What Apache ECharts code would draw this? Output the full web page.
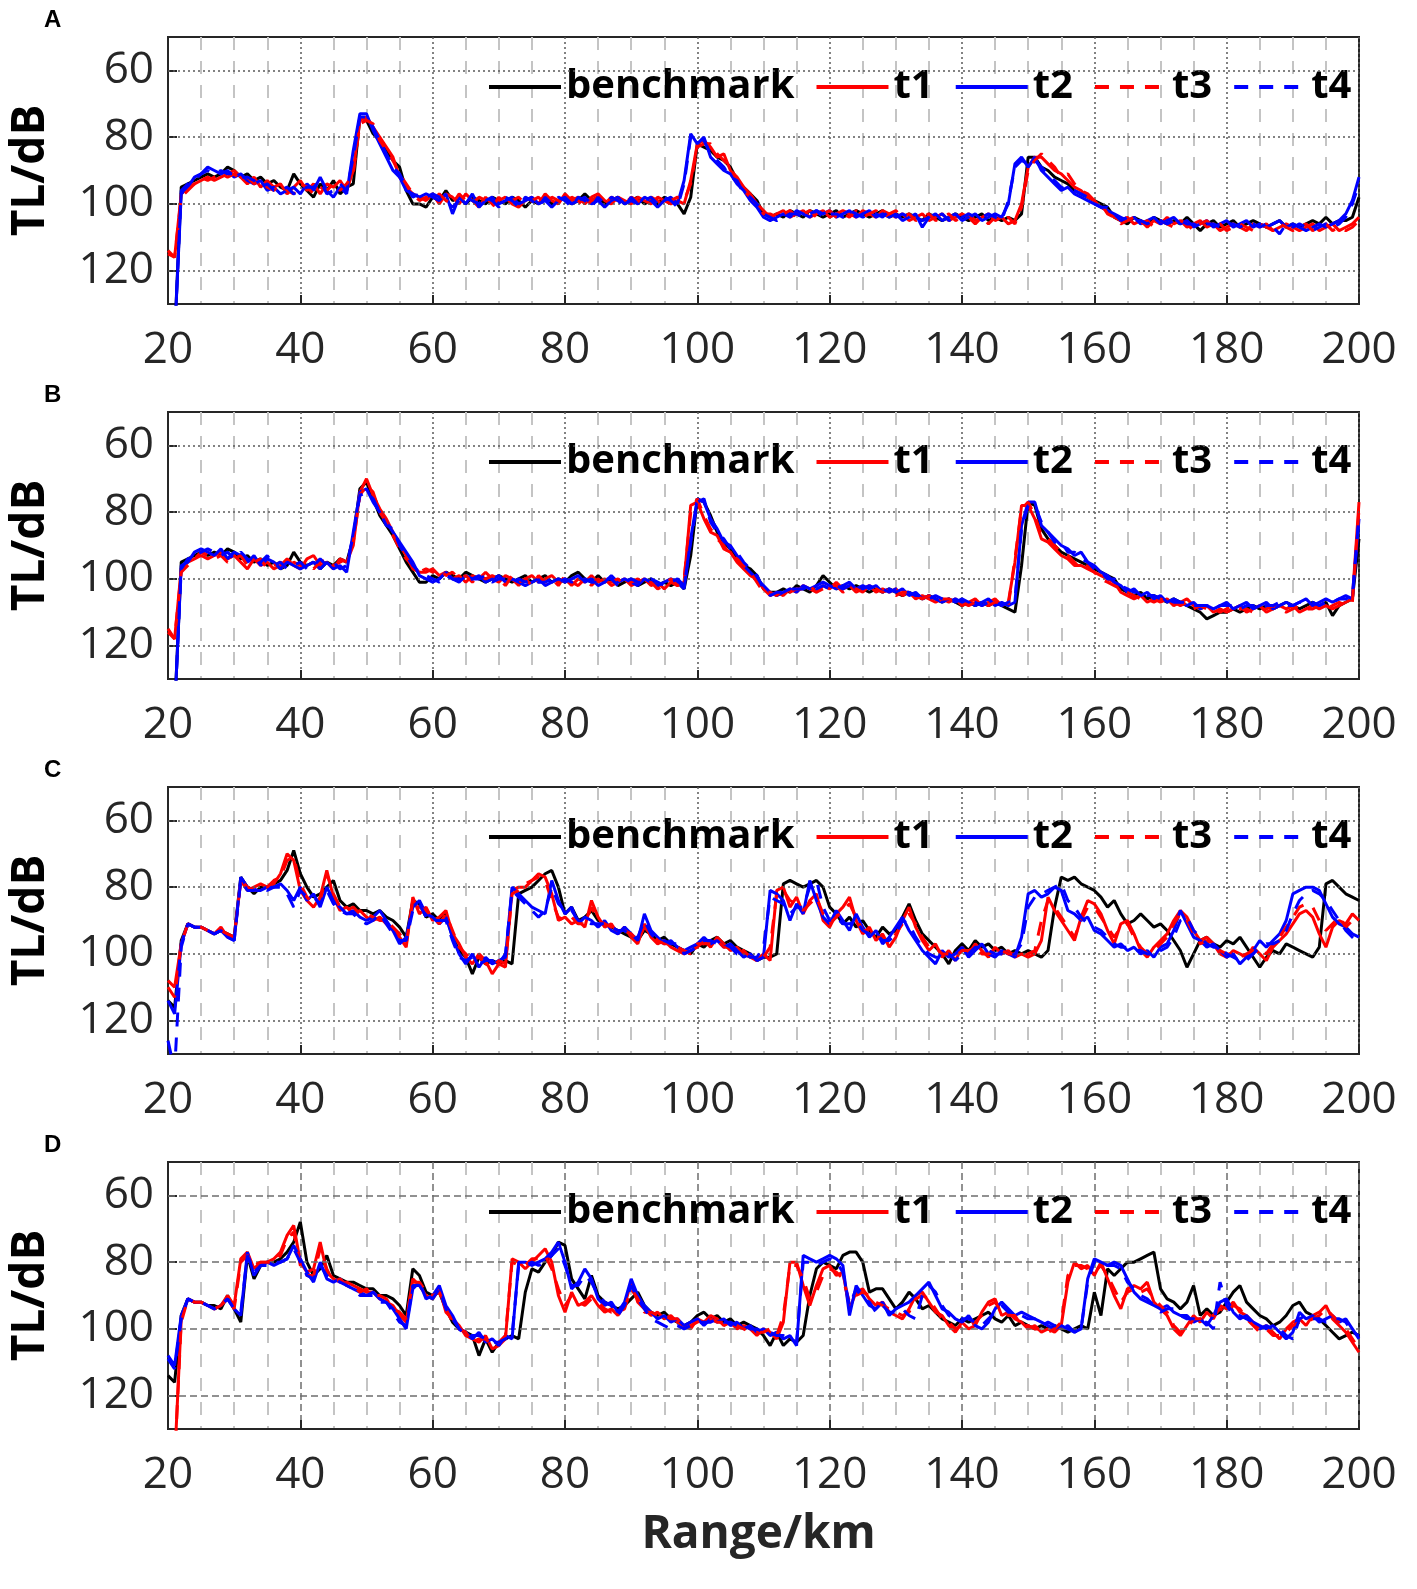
<!DOCTYPE html>
<html>
<head>
<meta charset="utf-8">
<title>TL vs range</title>
<script src="https://cdn.jsdelivr.net/npm/echarts@6/dist/echarts.min.js"></script>
<style>
  html, body { margin: 0; padding: 0; background: #fff; }
  #chart { width: 1417px; height: 1589px; }
</style>
</head>
<body>
<div id="chart"></div>
<script>
// 距离轴: 20 ~ 200 km, 每 1 km 一个点
const rangeKm = [];
for (let r = 20; r <= 200; r++) rangeKm.push(r);

const seriesNames = ['benchmark', 't1', 't2', 't3', 't4'];
const panelLetters = ['A', 'B', 'C', 'D'];
const xTicks = [20, 40, 60, 80, 100, 120, 140, 160, 180, 200];
const yTicks = [60, 80, 100, 120];

// ---------- A ----------
const benchA = [140,140,95,94,93,92,91,92,91,89,
  90,92,91,93,92,94,93,95,96,91,
  94,96,98,94,96,93,97,95,94,74,
  75,79,81,84,87,89,96,100,100,101,
  98,99,96,99,98,100,98,99,100,98,
  99,100,98,99,101,99,100,98,100,99,
  98,100,99,97,99,98,100,99,98,100,
  99,98,100,99,100,98,99,100,103,98,
  82,83,84,86,87,89,93,95,97,99,
  103,104,103,104,102,103,104,102,103,104,
  103,102,104,103,102,103,104,103,102,104,
  103,104,103,104,105,103,104,105,104,103,
  104,105,104,103,105,104,105,104,105,103,
  86,86,89,90,92,93,94,96,97,98,
  99,100,101,104,105,106,104,105,106,104,
  105,106,105,106,104,106,108,106,105,107,
  106,105,107,106,105,106,107,106,105,107,
  106,107,106,105,106,104,106,105,105,104,
  98];
const t1A = [115,116,97,95,94,93,92,93,92,91,
  90,92,94,92,95,93,95,94,97,95,
  93,96,94,97,94,95,93,96,90,75,
  74,77,80,83,86,92,95,97,98,99,
  97,100,97,98,100,97,99,101,98,100,
  99,98,100,101,99,98,100,97,99,100,
  97,99,98,100,98,97,99,100,98,99,
  100,98,99,100,98,99,100,99,100,93,
  82,81,83,86,85,90,92,95,97,100,
  102,104,103,102,104,103,102,104,103,102,
  104,103,102,103,104,102,103,104,102,103,
  104,103,105,104,103,105,104,103,105,104,
  103,104,106,104,103,105,104,106,105,100,
  89,86,86,88,90,91,93,95,96,98,
  99,101,102,104,105,104,106,105,107,105,
  106,104,106,105,107,106,105,107,106,108,
  107,106,107,108,106,107,106,108,107,106,
  107,108,107,106,108,107,106,108,107,106,
  104];
const t2A = [140,140,97,95,92,91,89,90,91,90,
  92,91,93,94,93,96,95,97,96,95,
  97,94,96,92,96,98,95,97,84,73,
  73,78,82,86,90,92,96,97,98,97,
  98,99,97,103,98,100,97,101,99,98,
  100,99,98,100,99,98,100,99,101,99,
  98,100,99,98,100,99,101,99,98,100,
  99,100,98,99,101,99,98,100,93,79,
  82,80,86,88,90,91,94,96,99,101,
  104,105,104,103,104,102,103,104,102,103,
  102,104,103,102,104,103,102,104,103,104,
  103,105,104,103,107,104,103,105,104,103,
  105,104,103,105,104,103,104,100,88,86,
  89,86,90,92,94,96,95,97,98,99,
  100,101,102,103,104,105,104,106,105,104,
  106,105,104,106,105,107,106,105,107,106,
  105,107,106,105,107,106,107,106,105,107,
  106,107,108,107,106,107,106,105,103,99,
  92];
const t3A = [114,116,98,96,94,92,93,92,91,92,
  91,93,92,94,93,95,96,94,96,97,
  94,95,97,95,96,94,96,94,91,76,
  75,76,81,84,87,91,94,97,99,98,
  99,97,99,100,97,99,100,98,99,101,
  98,100,99,98,100,99,98,100,98,99,
  100,98,99,101,99,98,100,98,99,100,
  98,99,100,98,99,101,99,98,99,94,
  83,82,82,85,87,89,93,96,98,100,
  103,103,104,103,102,104,103,102,104,103,
  102,104,103,104,102,104,103,102,104,103,
  102,104,103,105,104,103,105,104,103,105,
  104,103,105,104,106,104,105,104,106,101,
  90,87,85,87,89,92,91,94,96,97,
  99,100,103,104,106,105,104,106,105,107,
  105,106,107,105,106,108,106,105,107,106,
  108,107,106,107,108,106,107,108,106,107,
  108,107,106,108,107,106,108,107,108,107,
  105];
const t4A = [140,140,96,94,93,91,90,91,90,91,
  91,92,92,93,95,94,96,96,95,97,
  96,95,95,93,97,96,94,96,86,74,
  74,77,81,85,89,91,95,98,97,98,
  97,98,99,101,99,98,99,100,98,99,
  101,98,99,101,98,99,101,98,100,98,
  99,101,98,99,101,98,100,98,99,101,
  98,100,99,98,100,98,99,101,94,80,
  81,81,85,87,89,92,93,97,98,100,
  103,104,105,104,103,103,104,103,102,104,
  103,103,104,102,103,104,103,103,104,102,
  104,103,104,104,105,104,104,103,105,104,
  104,103,104,104,103,104,105,99,89,87,
  88,87,89,91,93,95,96,96,97,98,
  100,101,101,103,105,104,105,105,106,105,
  105,106,105,105,106,106,107,106,106,107,
  106,106,107,106,106,107,106,107,109,106,
  107,106,107,108,107,106,107,106,104,100,
  94];

// ---------- B ----------
const benchB = [140,140,95,94,93,92,93,92,93,91,
  92,94,93,95,94,96,95,97,96,92,
  95,96,95,97,95,96,94,95,88,73,
  71,76,81,84,87,91,95,98,101,101,
  99,100,98,99,100,98,99,100,101,100,
  99,100,101,100,99,101,100,99,101,100,
  101,99,98,100,101,99,101,100,102,101,
  100,102,101,100,102,101,102,101,103,93,
  76,77,81,86,89,91,94,96,97,99,
  103,104,104,103,104,102,103,104,102,99,
  101,103,102,103,102,103,104,103,104,103,
  104,105,104,105,106,105,106,107,106,107,
  108,107,108,107,108,107,108,109,110,96,
  77,78,85,88,90,92,93,94,95,96,
  97,98,99,100,103,104,105,104,106,105,
  106,107,106,107,108,109,110,112,111,110,
  110,109,110,109,108,109,108,109,108,107,
  108,109,108,107,108,107,111,108,107,106,
  88];
const t1B = [116,118,97,95,94,93,94,93,92,94,
  93,95,97,94,96,95,97,96,94,96,
  97,94,93,96,95,97,94,95,90,74,
  70,75,79,82,86,90,93,97,98,98,
  97,99,98,100,99,101,99,100,98,100,
  101,99,100,102,100,99,101,100,99,101,
  100,102,100,101,99,101,100,102,101,100,
  102,101,100,102,101,103,101,102,101,78,
  77,82,86,87,91,92,95,97,99,100,
  103,105,104,105,103,104,102,103,104,102,
  103,101,103,102,104,103,102,104,103,104,
  103,105,104,106,105,106,107,106,107,106,
  108,107,106,108,107,106,108,107,95,78,
  78,82,88,89,91,93,94,96,96,97,
  98,99,100,101,104,105,106,105,107,106,
  107,106,108,107,106,108,109,108,110,109,
  110,109,108,110,109,108,110,109,108,109,
  108,110,109,108,109,108,109,108,107,106,
  77];
const t2B = [140,140,96,95,92,91,92,93,91,94,
  92,93,95,93,96,94,95,97,95,96,
  97,96,95,97,95,97,96,98,86,74,
  73,77,80,83,86,89,92,95,99,100,
  101,100,98,100,101,99,100,99,101,100,
  99,101,100,101,102,101,100,102,101,100,
  101,100,99,101,100,102,101,99,101,100,
  101,102,100,101,102,101,100,101,103,88,
  76,77,82,85,89,90,93,96,98,100,
  102,104,105,104,103,104,102,103,102,101,
  102,103,102,101,103,102,103,102,104,103,
  104,103,105,104,106,105,106,107,106,107,
  106,107,108,107,106,108,107,108,107,84,
  77,77,84,86,88,90,91,93,92,95,
  96,98,99,101,102,104,103,105,104,106,
  105,107,106,107,108,107,109,108,109,108,
  107,109,108,107,109,108,107,109,108,107,
  108,107,106,108,107,106,107,106,105,106,
  82];
const t3B = [115,118,98,96,94,92,93,94,93,95,
  94,93,96,95,94,97,96,95,97,95,
  96,95,97,95,94,96,95,94,89,75,
  72,74,80,83,87,91,94,96,98,97,
  98,97,99,98,100,99,101,99,100,99,
  100,102,99,101,100,102,99,101,100,102,
  99,101,102,100,102,100,102,101,100,102,
  101,100,102,101,103,102,100,102,100,80,
  76,81,85,88,90,93,94,96,98,101,
  104,104,105,103,104,103,103,102,104,103,
  102,102,104,103,103,104,102,103,104,103,
  105,104,104,105,106,105,107,106,106,107,
  107,108,107,107,108,107,107,108,94,79,
  77,81,87,88,90,92,93,95,97,96,
  98,100,101,102,103,104,105,106,106,107,
  106,107,107,108,107,109,108,109,109,110,
  109,108,109,109,110,109,109,108,109,110,
  109,108,109,109,108,109,108,107,108,107,
  79];
const t4B = [140,140,97,94,93,92,91,92,93,92,
  94,92,94,96,95,93,96,95,97,96,
  95,97,96,94,96,95,97,96,87,75,
  74,76,80,84,85,90,93,96,98,99,
  100,101,99,100,100,101,100,100,99,101,
  100,100,101,100,101,100,101,101,100,101,
  100,101,100,100,101,101,100,100,102,101,
  100,101,101,100,101,102,101,100,102,89,
  77,76,83,86,88,91,92,95,97,99,
  103,105,104,104,103,103,103,102,103,102,
  103,102,103,102,102,103,102,103,103,104,
  103,104,104,105,105,106,105,106,107,106,
  107,106,107,108,107,107,108,107,106,85,
  78,78,83,86,89,89,92,92,94,95,
  97,98,100,100,102,103,104,104,105,105,
  106,106,107,107,107,108,108,108,109,108,
  108,108,109,108,108,109,108,108,107,108,
  108,107,107,107,108,107,107,106,106,105,
  81];

// ---------- C ----------
const benchC = [114,116,96,91,92,92,93,94,93,94,
  95,77,80,82,80,80,79,78,75,69,
  76,80,83,82,80,78,84,86,85,87,
  87,88,87,89,90,92,95,84,85,89,
  88,90,88,95,99,101,106,101,103,102,
  103,102,103,82,81,80,78,76,75,80,
  88,86,90,89,87,90,91,92,93,94,
  95,96,93,94,96,95,97,98,99,100,
  97,98,96,95,97,96,98,99,100,102,
  101,101,100,79,78,79,80,79,78,80,
  86,88,91,89,92,90,93,95,92,94,
  93,89,85,90,94,96,98,100,103,99,
  97,99,96,98,97,99,98,100,99,100,
  99,100,101,99,86,77,78,77,79,80,
  81,83,86,84,88,91,90,88,90,92,
  91,93,96,99,104,100,96,95,97,98,
  96,97,95,98,101,104,101,99,100,97,
  98,99,100,101,98,79,78,80,82,83,
  84];
const t1C = [108,110,97,91,92,92,93,94,92,95,
  95,78,81,80,79,80,79,76,70,72,
  81,84,86,83,75,83,87,86,88,87,
  89,90,89,91,93,95,98,83,88,86,
  90,89,87,94,97,101,103,100,102,106,
  103,104,81,80,80,78,76,77,82,90,
  89,91,90,92,84,89,92,91,94,92,
  95,97,91,95,97,96,98,99,100,99,
  98,96,98,95,97,99,98,100,101,102,
  100,102,81,80,86,83,88,84,82,90,
  92,88,86,83,90,94,92,96,94,98,
  95,90,86,92,96,99,97,101,99,102,
  98,100,97,99,101,98,100,99,101,100,
  101,100,96,83,87,90,93,96,89,84,
  85,88,93,97,91,90,94,99,101,98,
  96,94,90,87,89,93,96,95,97,100,
  101,99,100,101,98,100,102,98,96,94,
  91,88,87,89,94,98,92,90,91,88,
  90];
const t2C = [114,118,97,91,92,92,93,94,93,95,
  96,77,80,81,81,80,80,79,81,84,
  80,84,82,86,80,84,86,88,87,89,
  90,89,87,90,93,97,95,86,84,88,
  89,91,89,95,100,103,100,104,101,103,
  102,101,80,82,84,86,87,88,78,84,
  88,86,91,89,90,92,90,93,94,92,
  94,96,88,93,95,97,96,98,99,98,
  97,95,97,96,98,97,99,101,100,102,
  101,81,82,84,90,85,88,78,84,89,
  91,87,90,93,88,92,95,93,97,95,
  92,89,93,96,99,101,103,99,101,100,
  98,101,99,97,100,101,99,100,101,95,
  82,81,83,82,80,81,87,88,90,89,
  93,94,96,98,97,99,98,100,99,101,
  98,97,93,87,91,95,96,98,97,99,
  101,100,103,101,99,96,98,96,94,90,
  82,81,80,80,81,85,89,91,92,94,
  95];
const t3C = [110,113,97,91,92,92,93,94,93,94,
  95,78,80,81,80,80,78,77,72,71,
  79,83,85,84,76,82,86,87,86,88,
  88,89,90,90,92,94,97,84,86,87,
  89,91,88,93,98,100,102,101,103,104,
  102,103,82,81,79,78,77,78,84,89,
  90,89,91,91,86,90,91,92,93,93,
  94,96,92,94,96,97,97,98,99,100,
  97,97,97,96,98,98,99,99,101,101,
  101,98,82,81,84,85,87,85,83,88,
  91,89,87,85,89,93,93,95,95,97,
  94,91,88,91,95,98,98,100,100,101,
  99,99,98,100,100,99,99,100,100,101,
  100,99,90,84,86,89,92,95,90,86,
  86,89,92,95,92,91,95,98,100,99,
  97,95,91,88,90,94,97,96,98,99,
  100,100,101,100,99,99,100,97,95,92,
  89,86,85,86,90,93,91,89,92,90,
  91];
const t4C = [126,135,98,91,92,92,93,94,93,95,
  96,78,81,81,80,81,80,80,82,86,
  81,83,83,85,81,85,87,88,88,90,
  91,90,88,91,94,96,96,87,85,89,
  90,90,90,96,101,102,101,103,102,102,
  103,100,81,83,85,87,89,87,80,85,
  87,87,90,90,91,91,91,92,93,93,
  95,95,90,94,96,96,97,97,100,99,
  98,96,96,97,97,98,100,100,101,101,
  98,83,84,85,88,86,86,80,78,86,
  90,89,91,91,90,93,94,94,96,96,
  94,90,91,95,98,100,101,101,100,102,
  100,100,98,98,99,100,100,101,100,97,
  86,83,82,81,80,79,84,86,89,91,
  92,93,95,97,98,98,99,99,100,100,
  99,98,95,90,89,93,95,97,98,98,
  100,101,102,102,100,98,97,97,96,93,
  88,84,82,81,82,84,87,90,93,95,
  97];

// ---------- D ----------
const benchD = [114,116,96,91,92,92,93,93,94,90,
  94,98,78,85,81,80,80,79,77,74,
  68,80,84,82,78,84,85,86,86,87,
  88,88,90,90,91,93,96,82,84,89,
  90,89,94,98,100,101,102,108,103,107,
  104,103,102,103,89,82,83,80,78,74,
  75,85,88,91,84,90,92,93,94,93,
  91,89,93,95,96,95,97,98,99,98,
  96,95,97,96,98,97,99,98,99,100,
  102,105,101,105,103,104,102,90,82,80,
  81,82,78,77,77,80,89,88,88,91,
  94,92,89,91,94,93,95,97,98,99,
  97,98,97,96,95,97,98,96,99,98,
  99,100,99,100,99,100,101,100,99,100,
  89,96,82,84,82,80,80,79,78,77,
  88,91,92,94,92,87,96,94,96,95,
  92,89,87,92,94,96,97,99,98,96,
  93,92,95,96,97,99,101,103,102,101,
  102];
const t1D = [140,140,97,91,92,92,93,94,93,90,
  93,79,77,82,80,80,79,77,72,69,
  80,83,82,74,83,85,86,86,87,88,
  89,89,91,92,93,96,98,85,87,90,
  91,88,95,97,99,102,103,104,102,106,
  105,103,79,80,82,80,78,76,80,90,
  95,89,93,92,90,93,95,94,96,93,
  86,92,94,96,95,97,96,98,99,100,
  97,98,96,97,99,98,100,99,100,102,
  100,101,103,98,80,80,87,93,87,82,
  81,84,83,94,89,88,91,93,92,95,
  96,97,94,90,89,92,95,96,99,101,
  98,100,99,95,92,91,96,95,97,98,
  100,99,101,100,101,99,86,80,82,81,
  84,80,85,90,94,88,87,88,86,92,
  94,96,100,102,99,96,98,95,97,93,
  94,92,95,96,98,100,99,101,103,100,
  98,97,99,96,95,93,97,99,101,104,
  107];
const t2D = [108,111,96,91,92,92,93,94,93,91,
  94,96,77,84,81,80,81,80,79,75,
  79,83,86,80,85,86,85,87,88,89,
  90,89,91,92,94,97,100,88,86,91,
  90,87,93,96,100,101,103,101,104,103,
  105,102,103,80,80,81,80,79,77,74,
  80,88,86,82,85,91,93,92,95,92,
  85,90,93,95,97,96,98,97,99,98,
  97,99,97,98,97,99,98,100,99,101,
  100,102,101,103,102,105,78,79,80,79,
  78,79,81,96,87,90,93,94,92,96,
  94,93,92,90,88,86,90,94,95,97,
  98,96,99,100,98,94,92,94,96,95,
  96,97,98,99,100,99,100,101,100,85,
  79,80,81,80,81,85,89,91,92,93,
  94,93,95,96,96,98,97,99,96,92,
  91,95,97,96,98,99,100,99,101,103,
  101,95,97,96,98,97,96,98,97,100,
  103];
const t3D = [140,140,98,91,92,92,93,94,93,91,
  94,80,78,81,80,80,80,78,73,71,
  81,84,84,76,82,86,85,87,87,89,
  88,90,90,91,94,95,97,86,86,89,
  90,89,94,98,100,101,104,103,103,105,
  104,102,80,81,81,79,79,78,82,88,
  93,90,92,93,91,92,94,95,95,94,
  88,91,95,95,96,96,97,97,100,99,
  98,97,97,98,98,99,99,100,101,101,
  101,100,102,96,81,81,85,91,89,84,
  82,83,85,92,90,89,90,92,93,94,
  95,96,95,91,90,91,94,97,98,100,
  99,99,98,96,93,92,95,96,96,99,
  99,100,100,101,100,98,84,81,81,82,
  83,81,84,88,92,89,88,89,88,91,
  93,95,99,101,100,97,97,96,96,94,
  95,93,94,97,99,101,100,102,102,101,
  99,98,98,97,96,94,96,98,100,103,
  106];
const t4D = [109,112,97,91,92,92,93,94,93,91,
  94,95,78,83,81,81,80,80,79,76,
  80,84,85,81,84,85,86,87,88,90,
  90,90,92,92,95,98,99,87,87,90,
  91,88,94,97,100,102,102,102,103,104,
  104,103,102,81,81,80,81,80,78,76,
  81,87,87,84,86,90,92,93,96,93,
  87,91,94,97,98,99,100,99,100,99,
  98,98,98,97,98,98,99,99,100,100,
  101,101,102,102,103,104,80,80,81,80,
  79,80,83,93,88,91,92,95,93,95,
  95,94,96,97,90,87,89,93,96,97,
  97,97,98,99,97,95,93,95,95,96,
  97,97,99,98,99,100,99,101,100,86,
  80,80,81,81,82,86,88,90,91,93,
  95,94,94,96,97,97,98,98,100,86,
  93,96,96,97,98,100,99,100,100,102,
  103,97,96,97,97,98,97,97,98,101,
  102];

const panelData = [
  [benchA, t1A, t2A, t3A, t4A],
  [benchB, t1B, t2B, t3B, t4B],
  [benchC, t1C, t2C, t3C, t4C],
  [benchD, t1D, t2D, t3D, t4D]
];

// 样式
const lineColors = ['#000000', '#ff0000', '#0000ff', '#ff0000', '#0000ff'];
const lineTypes = ['solid', 'solid', 'solid', [14, 11], [14, 11]];
const numFont = "'Open Sans', 'Noto Sans', sans-serif";
const boldFont = "'Open Sans', 'Noto Sans', sans-serif";

const gridLeft = 158, gridWidth = 1201, gridHeight = 267;
const gridTops = [37, 412, 787, 1162];

function buildOption() {
  let grid = [], xAxis = [], yAxis = [], series = [], legend = [], title = [];
  for (let p = 0; p < 4; p++) {
    // D 面板的主网格是虚线, 其余为点线
    let majorType = p === 3 ? [7, 4] : [2, 3];
    let majorColor = p === 3 ? '#6e6e6e' : '#5a5a5a';
    grid.push({
      left: gridLeft, top: gridTops[p], width: gridWidth, height: gridHeight,
      show: true, borderColor: '#262626', borderWidth: 2, backgroundColor: 'transparent'
    });
    xAxis.push({
      type: 'value', gridIndex: p, min: 20, max: 200, interval: 20,
      axisLine: { show: true, lineStyle: { color: '#262626', width: 2 } },
      axisTick: { show: true, inside: true, length: 9, lineStyle: { color: '#262626', width: 2 } },
      axisLabel: { fontSize: 44, color: '#262626', fontFamily: numFont, margin: 24 },
      splitLine: { show: true, lineStyle: { color: majorColor, width: 1.5, type: majorType } },
      minorTick: { show: false, splitNumber: 4 },
      minorSplitLine: { show: true, lineStyle: { color: '#c4c4c4', width: 2, type: [13, 11] } }
    });
    yAxis.push({
      type: 'value', gridIndex: p, min: 50, max: 130, interval: 10, inverse: true,
      name: 'TL/dB', nameLocation: 'middle', nameRotate: 90, nameGap: 114,
      nameTextStyle: { fontSize: 46, fontWeight: 'bold', color: '#000', fontFamily: boldFont },
      axisLine: { show: true, lineStyle: { color: '#262626', width: 2 } },
      axisTick: { show: true, inside: true, length: 9, customValues: yTicks,
        lineStyle: { color: '#262626', width: 2 } },
      axisLabel: {
        fontSize: 44, color: '#262626', fontFamily: numFont, margin: 14,
        customValues: yTicks,
        formatter: function (v) { return yTicks.indexOf(v) >= 0 ? String(v) : ''; }
      },
      splitLine: { show: false }
    });
    // 横向网格线用 markLine 画
    series.push({
      type: 'line', xAxisIndex: p, yAxisIndex: p, data: [], z: 1, silent: true,
      markLine: {
        silent: true, symbol: 'none', label: { show: false }, animation: false,
        lineStyle: { color: majorColor, width: 1.5, type: majorType },
        data: yTicks.map(function (v) { return { yAxis: v }; })
      }
    });
    for (let s = 0; s < 5; s++) {
      let vals = panelData[p][s];
      series.push({
        name: seriesNames[s], type: 'line', xAxisIndex: p, yAxisIndex: p,
        data: rangeKm.map(function (r, i) { return [r, vals[i]]; }),
        showSymbol: false, symbol: 'none', clip: true, z: 3 + s,
        lineStyle: { color: lineColors[s], width: 3, type: lineTypes[s] },
        itemStyle: { color: lineColors[s] }
      });
    }
    legend.push({
      data: seriesNames, left: 487, top: gridTops[p] + 30,
      itemWidth: 72, itemHeight: 14, itemGap: 20, padding: 0,
      itemStyle: { opacity: 0 },
      lineStyle: { width: 4 },
      textStyle: { fontSize: 40, fontWeight: 'bold', color: '#000', fontFamily: boldFont },
      selectedMode: false
    });
    title.push({
      text: panelLetters[p], left: 39, top: gridTops[p] - 34,
      textStyle: { fontSize: 24, fontWeight: 'bold', color: '#000', fontFamily: "'Liberation Sans', Arial, sans-serif" }
    });
  }
  return {
    animation: false,
    backgroundColor: '#ffffff',
    title: title, grid: grid, xAxis: xAxis, yAxis: yAxis,
    legend: legend, series: series,
    graphic: [{
      type: 'text', x: gridLeft + gridWidth / 2, y: 1535,
      style: {
        text: 'Range/km', fill: '#262626', font: "bold 46px 'Open Sans', 'Noto Sans', sans-serif",
        textAlign: 'center', textVerticalAlign: 'middle'
      }
    }]
  };
}

let myChart = echarts.init(document.getElementById('chart'));
myChart.setOption(buildOption());
</script>
</body>
</html>
